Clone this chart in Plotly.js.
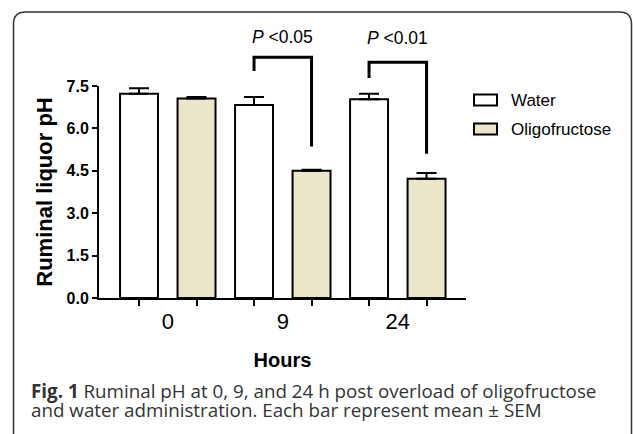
<!DOCTYPE html>
<html>
<head>
<meta charset="utf-8">
<script src="https://cdn.plot.ly/plotly-3.0.1.min.js"></script>
<style>html,body{margin:0;padding:0;background:#fff;}</style>
</head>
<body>
<div id="chart" style="width:633px;height:434px;"></div>
<script>
// ---- data ----
const hours = ['0', '9', '24'];
const groupIndex = [0, 1, 2];
const seriesNames = ['Water', 'Oligofructose'];
const waterMean = [7.23, 6.83, 7.03];
const waterSEM = [0.19, 0.28, 0.20];
const oligoMean = [7.06, 4.50, 4.22];
const oligoSEM = [0.05, 0.04, 0.20];
const noLowerError = [0, 0, 0];
const yTickVals = [0, 1.5, 3, 4.5, 6, 7.5];
const yTickText = ['0.0', '1.5', '3.0', '4.5', '6.0', '7.5'];
// significance brackets (data units)
const sigGroup = [1, 2];
const sigText = ['&lt;0.05', '&lt;0.01'];
const sigLeftEnd = [8.03, 7.78];
const sigTop = [8.52, 8.34];
const sigRightEnd = [5.36, 5.10];
const sigLabelY = [9.24, 9.20];
const captionBold = 'Fig. 1';
const captionLine1 = ' Ruminal pH at 0, 9, and 24 h post overload of oligofructose';
const captionLine2 = 'and water administration. Each bar represent mean \u00b1 SEM';

// ---- styling / layout geometry ----
const W = 633, H = 434;
const M = {l: 99, r: 167, t: 86, b: 136};
const PW = W - M.l - M.r, PH = H - M.t - M.b;
const YMAX = 7.5;
const px2x = p => (p - M.l) / PW;
const px2y = p => 1 - (p - M.t) / PH;
const v2py = v => v / YMAX;
const fillColors = ['#ffffff', '#ebe5c9'];
const barOffset = 0.25;

const traces = [
  {type: 'bar', name: seriesNames[0], x: groupIndex, y: waterMean,
   marker: {color: fillColors[0], line: {color: '#000', width: 2}},
   error_y: {type: 'data', symmetric: false, array: waterSEM, arrayminus: noLowerError,
             width: 10, thickness: 2, color: '#000'}},
  {type: 'bar', name: seriesNames[1], x: groupIndex, y: oligoMean,
   marker: {color: fillColors[1], line: {color: '#000', width: 2}},
   error_y: {type: 'data', symmetric: false, array: oligoSEM, arrayminus: noLowerError,
             width: 10, thickness: 2, color: '#000'}}
];

const shapes = [];
const annotations = [];

// significance brackets
sigGroup.forEach((g, i) => {
  const xl = g - barOffset, xr = g + barOffset;
  shapes.push({type: 'path', xref: 'x', yref: 'paper',
    path: `M${xl},${v2py(sigLeftEnd[i])} L${xl},${v2py(sigTop[i])} L${xr},${v2py(sigTop[i])} L${xr},${v2py(sigRightEnd[i])}`,
    line: {color: '#000', width: 3}});
  annotations.push({xref: 'x', yref: 'paper', x: g, y: v2py(sigLabelY[i]),
    text: '<i>P</i> ' + sigText[i], showarrow: false, xanchor: 'center', yanchor: 'middle',
    font: {family: 'Arial, Liberation Sans, sans-serif', size: 17.5, color: '#000'}});
});

// custom legend
const legendRows = [100, 129];
seriesNames.forEach((name, i) => {
  const cy = legendRows[i];
  shapes.push({type: 'rect', xref: 'paper', yref: 'paper',
    x0: px2x(474), x1: px2x(497), y0: px2y(cy - 5.5), y1: px2y(cy + 5.5),
    fillcolor: fillColors[i], line: {color: '#000', width: 2}});
  annotations.push({xref: 'paper', yref: 'paper', x: px2x(509), y: px2y(cy),
    text: name, showarrow: false, xanchor: 'left', yanchor: 'middle',
    font: {family: 'Arial, Liberation Sans, sans-serif', size: 17, color: '#000'}});
});

// outer rounded frame
const fl = 13.5, ft = 12, fr = 631.5, fb = 445, rad = 12;
shapes.push({type: 'path', xref: 'paper', yref: 'paper',
  path: `M${px2x(fl)},${px2y(fb)} L${px2x(fl)},${px2y(ft + rad)} Q${px2x(fl)},${px2y(ft)} ${px2x(fl + rad)},${px2y(ft)} L${px2x(fr - rad)},${px2y(ft)} Q${px2x(fr)},${px2y(ft)} ${px2x(fr)},${px2y(ft + rad)} L${px2x(fr)},${px2y(fb)}`,
  line: {color: '#333', width: 1.5}});

// caption
const capFont = {family: 'Open Sans, Noto Sans, sans-serif', size: 18.8, color: '#333'};
annotations.push({xref: 'paper', yref: 'paper', x: px2x(30), y: px2y(390.5),
  text: '<b>' + captionBold + '</b>' + captionLine1, showarrow: false,
  xanchor: 'left', yanchor: 'middle', borderpad: 0, font: capFont});
annotations.push({xref: 'paper', yref: 'paper', x: px2x(30), y: px2y(410),
  text: captionLine2, showarrow: false, xanchor: 'left', yanchor: 'middle', borderpad: 0, font: capFont});

const axisFont = 'Arial, Liberation Sans, sans-serif';
const layout = {
  width: W, height: H,
  margin: M,
  paper_bgcolor: '#fff', plot_bgcolor: '#fff',
  showlegend: false,
  barmode: 'group', bargap: 0, bargroupgap: 0.34,
  xaxis: {
    range: [-0.598, 2.593],
    tickmode: 'array', tickvals: groupIndex, ticktext: hours,
    ticks: '', ticklabelstandoff: 3,
    tickfont: {family: axisFont, size: 22, color: '#000'},
    minor: {tickmode: 'linear', tick0: 0.25, dtick: 0.5, ticks: 'outside', ticklen: 6,
            tickwidth: 2, tickcolor: '#000', showgrid: false},
    showline: true, linewidth: 2, linecolor: '#000',
    showgrid: false, zeroline: false, fixedrange: true,
    title: {text: 'Hours', standoff: 20,
            font: {family: axisFont, size: 20, color: '#000', weight: 700}}
  },
  yaxis: {
    range: [0, YMAX],
    tickmode: 'array', tickvals: yTickVals, ticktext: yTickText,
    ticks: 'outside', ticklen: 5, tickwidth: 2, tickcolor: '#000',
    tickfont: {family: axisFont, size: 16, color: '#000', weight: 700},
    showline: true, linewidth: 2, linecolor: '#000',
    showgrid: false, zeroline: false, fixedrange: true,
    title: {text: 'Ruminal liquor pH', standoff: 8,
            font: {family: axisFont, size: 22, color: '#000', weight: 700}}
  },
  shapes: shapes,
  annotations: annotations
};

Plotly.newPlot('chart', traces, layout, {displayModeBar: false, staticPlot: true});
</script>
</body>
</html>
